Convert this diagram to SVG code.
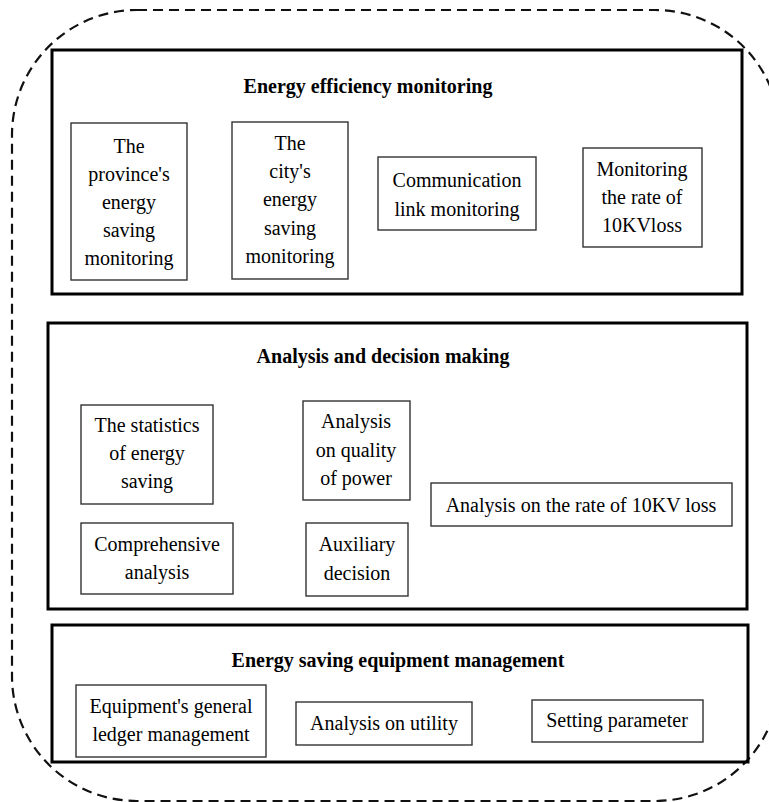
<svg xmlns="http://www.w3.org/2000/svg" width="769" height="802" viewBox="0 0 769 802">
<style>
.panel{fill:none;stroke:#000;stroke-width:3}
.box{fill:#fff;stroke:#333;stroke-width:1.4}
text{font-family:'Liberation Serif','DejaVu Serif',serif;fill:#000;text-anchor:middle}
.t{font-size:20px}
.h{font-size:20px;font-weight:bold}
.outer{fill:none;stroke:#111;stroke-width:2.2;stroke-dasharray:10 6}
</style>
<rect width="769" height="802" fill="#fff"/>
<rect id="outer" class="outer" x="12" y="10" width="768" height="791" rx="125" ry="125"/>
<g id="panel-monitoring">
<rect class="panel" x="52" y="50" width="690" height="244"/>
<text class="h" x="368" y="93">Energy efficiency monitoring</text>
</g>
<g id="node-province">
<rect class="box" x="71" y="123" width="116" height="157"/>
<text class="t" x="129" y="153">The</text>
<text class="t" x="129" y="181">province's</text>
<text class="t" x="129" y="209">energy</text>
<text class="t" x="129" y="237">saving</text>
<text class="t" x="129" y="265">monitoring</text>
</g>
<g id="node-city">
<rect class="box" x="232" y="122" width="116" height="157"/>
<text class="t" x="290" y="150">The</text>
<text class="t" x="290" y="178">city's</text>
<text class="t" x="290" y="206">energy</text>
<text class="t" x="290" y="235">saving</text>
<text class="t" x="290" y="263">monitoring</text>
</g>
<g id="node-communication">
<rect class="box" x="378" y="157" width="158" height="73"/>
<text class="t" x="457" y="187">Communication</text>
<text class="t" x="457" y="216">link monitoring</text>
</g>
<g id="node-monitoring-rate">
<rect class="box" x="583" y="148" width="119" height="99"/>
<text class="t" x="642" y="176">Monitoring</text>
<text class="t" x="642" y="204">the rate of</text>
<text class="t" x="642" y="232">10KVloss</text>
</g>
<g id="panel-analysis">
<rect class="panel" x="48" y="323" width="699" height="286"/>
<text class="h" x="383" y="363">Analysis and decision making</text>
</g>
<g id="node-statistics">
<rect class="box" x="81" y="405" width="132" height="99"/>
<text class="t" x="147" y="432">The statistics</text>
<text class="t" x="147" y="460">of energy</text>
<text class="t" x="147" y="488">saving</text>
</g>
<g id="node-quality">
<rect class="box" x="303" y="401" width="107" height="99"/>
<text class="t" x="356" y="428">Analysis</text>
<text class="t" x="356" y="457">on quality</text>
<text class="t" x="356" y="485">of power</text>
</g>
<g id="node-comprehensive">
<rect class="box" x="81" y="523" width="152" height="71"/>
<text class="t" x="157" y="551">Comprehensive</text>
<text class="t" x="157" y="579">analysis</text>
</g>
<g id="node-auxiliary">
<rect class="box" x="306" y="523" width="102" height="73"/>
<text class="t" x="357" y="551">Auxiliary</text>
<text class="t" x="357" y="580">decision</text>
</g>
<g id="node-rate-loss">
<rect class="box" x="431" y="483" width="301" height="43"/>
<text class="t" x="581" y="512">Analysis on the rate of 10KV loss</text>
</g>
<g id="panel-equipment">
<rect class="panel" x="52" y="625" width="696" height="137"/>
<text class="h" x="398" y="667">Energy saving equipment management</text>
</g>
<g id="node-ledger">
<rect class="box" x="76" y="685" width="190" height="72"/>
<text class="t" x="171" y="713">Equipment's general</text>
<text class="t" x="171" y="741">ledger management</text>
</g>
<g id="node-utility">
<rect class="box" x="296" y="702" width="176" height="43"/>
<text class="t" x="384" y="730">Analysis on utility</text>
</g>
<g id="node-setting">
<rect class="box" x="532" y="700" width="171" height="42"/>
<text class="t" x="617" y="727">Setting parameter</text>
</g>
<g id="connectors"></g>
</svg>
